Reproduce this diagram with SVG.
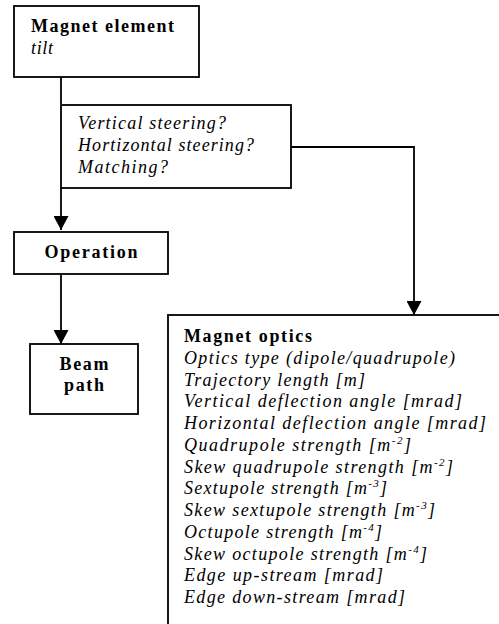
<svg xmlns="http://www.w3.org/2000/svg" width="499" height="624" viewBox="0 0 499 624">
<style>
.box{fill:#fff;stroke:#000;stroke-width:1.8}
.ln{fill:none;stroke:#000;stroke-width:1.8}
</style>
<defs>
<marker id="ah" markerWidth="15" markerHeight="15" refX="14" refY="7.5" orient="auto" markerUnits="userSpaceOnUse">
<path d="M0,0 L14,7.5 L0,15 Z" fill="#000"/>
</marker>
</defs>
<rect width="499" height="624" fill="#fff"/>
<g id="connectors">
<path class="ln" d="M61,77 V104"/>
<path class="ln" d="M61,188 V230" marker-end="url(#ah)"/>
<path class="ln" d="M291,147 H414 V315" marker-end="url(#ah)"/>
<path class="ln" d="M61,274 V344" marker-end="url(#ah)"/>
</g>
<g id="magnet-element">
<rect class="box" x="14" y="6" width="185" height="71"/>
<text font-family="'Liberation Serif', serif" font-size="18" font-weight="bold" x="31" y="32" textLength="143" lengthAdjust="spacing">Magnet element</text>
<text font-family="'Liberation Serif', serif" font-size="18" font-style="italic" x="31" y="54" textLength="22" lengthAdjust="spacing">tilt</text>
</g>
<g id="steering">
<rect class="box" x="61" y="105" width="230" height="83"/>
<text font-family="'Liberation Serif', serif" font-size="18" font-style="italic" x="78" y="129" textLength="148" lengthAdjust="spacing">Vertical steering?</text>
<text font-family="'Liberation Serif', serif" font-size="18" font-style="italic" x="78" y="151" textLength="176" lengthAdjust="spacing">Hortizontal steering?</text>
<text font-family="'Liberation Serif', serif" font-size="18" font-style="italic" x="78" y="173" textLength="90" lengthAdjust="spacing">Matching?</text>
</g>
<g id="operation">
<rect class="box" x="14" y="232" width="154" height="42"/>
<text font-family="'Liberation Serif', serif" font-size="18" font-weight="bold" text-anchor="middle" x="91" y="258" textLength="93" lengthAdjust="spacing">Operation</text>
</g>
<g id="beam-path">
<rect class="box" x="30" y="344" width="108" height="70"/>
<text font-family="'Liberation Serif', serif" font-size="18" font-weight="bold" text-anchor="middle" x="84" y="370" textLength="49" lengthAdjust="spacing">Beam</text>
<text font-family="'Liberation Serif', serif" font-size="18" font-weight="bold" text-anchor="middle" x="84" y="391" textLength="40" lengthAdjust="spacing">path</text>
</g>
<g id="magnet-optics">
<rect class="box" x="168" y="315" width="340" height="320"/>
<text font-family="'Liberation Serif', serif" font-size="18" font-weight="bold" x="184" y="342" textLength="128" lengthAdjust="spacing">Magnet optics</text>
<text font-family="'Liberation Serif', serif" font-size="18" font-style="italic" x="184" y="364" textLength="271" lengthAdjust="spacing">Optics type (dipole/quadrupole)</text>
<text font-family="'Liberation Serif', serif" font-size="18" font-style="italic" x="184" y="385.5" textLength="181" lengthAdjust="spacing">Trajectory length [m]</text>
<text font-family="'Liberation Serif', serif" font-size="18" font-style="italic" x="184" y="407" textLength="278" lengthAdjust="spacing">Vertical deflection angle [mrad]</text>
<text font-family="'Liberation Serif', serif" font-size="18" font-style="italic" x="184" y="429" textLength="302" lengthAdjust="spacing">Horizontal deflection angle [mrad]</text>
<text font-family="'Liberation Serif', serif" font-size="18" font-style="italic" x="184" y="451" textLength="227" lengthAdjust="spacing">Quadrupole strength [m<tspan font-size="11" dy="-7">-2</tspan><tspan dy="7">]</tspan></text>
<text font-family="'Liberation Serif', serif" font-size="18" font-style="italic" x="184" y="472.5" textLength="269" lengthAdjust="spacing">Skew quadrupole strength [m<tspan font-size="11" dy="-7">-2</tspan><tspan dy="7">]</tspan></text>
<text font-family="'Liberation Serif', serif" font-size="18" font-style="italic" x="184" y="494" textLength="203" lengthAdjust="spacing">Sextupole strength [m<tspan font-size="11" dy="-7">-3</tspan><tspan dy="7">]</tspan></text>
<text font-family="'Liberation Serif', serif" font-size="18" font-style="italic" x="184" y="516" textLength="251" lengthAdjust="spacing">Skew sextupole strength [m<tspan font-size="11" dy="-7">-3</tspan><tspan dy="7">]</tspan></text>
<text font-family="'Liberation Serif', serif" font-size="18" font-style="italic" x="184" y="538" textLength="198" lengthAdjust="spacing">Octupole strength [m<tspan font-size="11" dy="-7">-4</tspan><tspan dy="7">]</tspan></text>
<text font-family="'Liberation Serif', serif" font-size="18" font-style="italic" x="184" y="559.5" textLength="243" lengthAdjust="spacing">Skew octupole strength [m<tspan font-size="11" dy="-7">-4</tspan><tspan dy="7">]</tspan></text>
<text font-family="'Liberation Serif', serif" font-size="18" font-style="italic" x="184" y="581" textLength="199" lengthAdjust="spacing">Edge up-stream [mrad]</text>
<text font-family="'Liberation Serif', serif" font-size="18" font-style="italic" x="184" y="603" textLength="221" lengthAdjust="spacing">Edge down-stream [mrad]</text>
</g>
</svg>
